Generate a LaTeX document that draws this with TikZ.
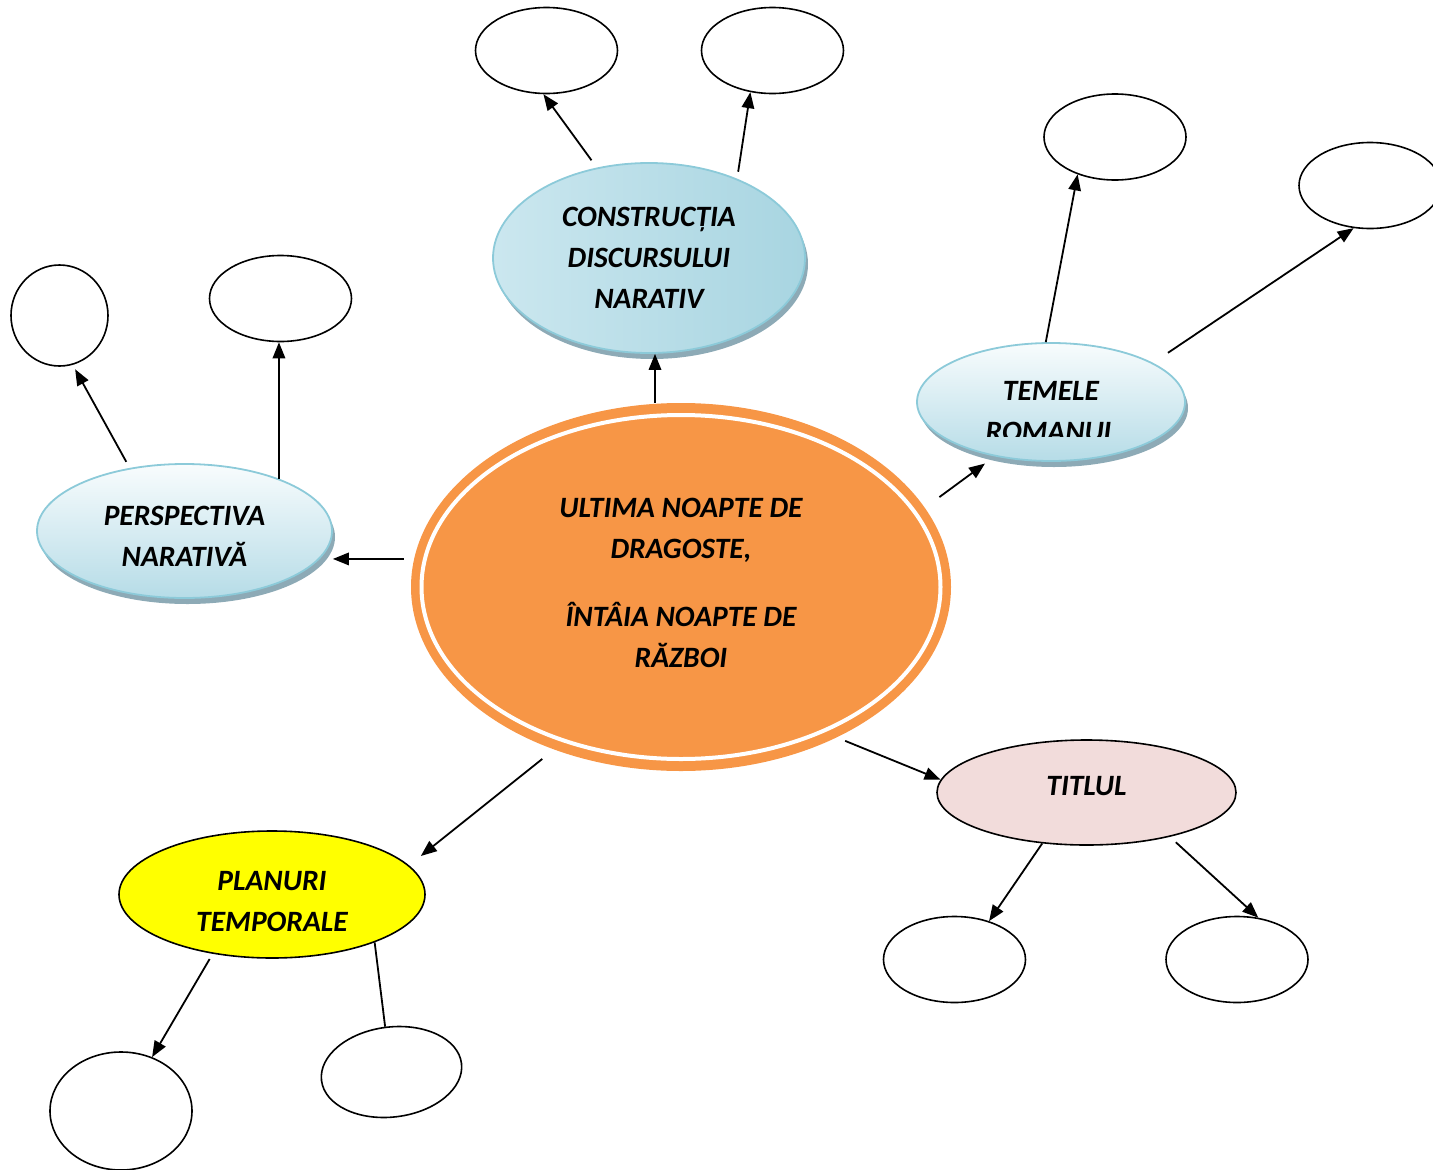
\documentclass[tikz,border=0pt]{standalone}
\usepackage{fontspec}
\setmainfont{Carlito}
\usetikzlibrary{arrows.meta,shapes.geometric,shadows}
\definecolor{ink}{HTML}{000000}
\definecolor{core}{HTML}{F79646}
\definecolor{sky}{HTML}{8CCAD9}
\definecolor{skytop}{HTML}{F8FCFD}
\definecolor{skybot}{HTML}{B6DCE7}
\definecolor{skyleft}{HTML}{CBE7EF}
\definecolor{skymid}{HTML}{DDEFF4}
\definecolor{skyright}{HTML}{A8D5E1}
\definecolor{skyshade}{HTML}{8DAAB6}
\definecolor{rose}{HTML}{F2DCDB}
\definecolor{lemon}{HTML}{FFFF00}

\begin{document}
\begin{tikzpicture}[
  x=1pt, y=-1pt,
  >={Triangle[length=16pt, width=12.5pt]},
  lbl/.style={font=\bfseries\itshape\fontsize{29.5}{41}\selectfont, align=center, text=ink},
  oval/.style={ellipse, inner sep=0pt, lbl},
  bubble/.style={oval, draw=sky, line width=1.8pt, top color=skytop, bottom color=skybot,
    drop shadow={shadow xshift=3pt, shadow yshift=-6pt, fill=skyshade, opacity=1}},
  blank/.style={oval, draw=ink, line width=1.6pt, fill=white, minimum width=142pt, minimum height=86pt},
  topic/.style={oval, draw=ink, line width=1.6pt},
  link/.style={->, line width=1.8pt, draw=ink},
]
\useasboundingbox (0,0) rectangle (1433,1170);

% central ellipse with its white inner ring
\node[oval, fill=core, minimum width=540pt, minimum height=368pt] (night) at (681,587) {};
\draw[white, line width=4pt] (night.center) ellipse [x radius=259.5, y radius=172];
\node[lbl] (nightText) at ([yshift=4pt]night.center)
  {ULTIMA NOAPTE DE\\DRAGOSTE,\\[27pt]ÎNTÂIA NOAPTE DE\\RĂZBOI};

% the five topics
\node[bubble, left color=skyleft, middle color=skymid, right color=skyright,
  minimum width=312pt, minimum height=190pt] (discourse) at (649,258)
  {CONSTRUCȚIA\\DISCURSULUI\\NARATIV};
\node[bubble, minimum width=268pt, minimum height=118pt] (themes) at (1051,402) {};
\node[lbl, anchor=base] (themesA) at (1051,400) {TEMELE};
\begin{scope}
\clip (917,343) rectangle (1185,436);
\node[lbl, anchor=base] (themesB) at (1051,441) {ROMANUL};
\end{scope}
\node[bubble, minimum width=295pt, minimum height=134pt] (perspective) at (184.5,531) {};
\node[lbl] (perspectiveText) at ([yshift=-5pt]perspective.center) {PERSPECTIVA\\NARATIVĂ};
\node[topic, fill=rose, minimum width=299pt, minimum height=105pt] (title) at (1086.5,792.5) {};
\node[lbl] (titleText) at ([yshift=6pt]title.center) {TITLUL};
\node[topic, fill=lemon, minimum width=306pt, minimum height=127pt] (planes) at (272,894.5) {};
\node[lbl] (planesText) at ([yshift=-7pt]planes.center) {PLANURI\\TEMPORALE};

% empty answer ellipses
\foreach \n/\x/\y in {discA/546.5/50.5, discB/772.5/50.5, themeA/1115/137, themeB/1370/185.5,
  perspB/280.5/298.5, titleA/954.5/959.5, titleB/1237/959.5}
  \node[blank] (\n) at (\x,\y) {};
\node[blank, minimum width=97pt, minimum height=101pt] (perspA) at (59.5,315.5) {};
\node[blank, minimum height=118pt] (planeA) at (121,1111) {};
\node[blank, minimum width=141pt, minimum height=90pt, rotate=7] (planeB) at (391.5,1072) {};

% centre to topics
\draw[link] ([xshift=-26pt]night.north) -- ([xshift=6pt]discourse.south);
\draw[link, shorten <=18pt, shorten >=12pt] (night.18.1) -- (themes.-136.2);
\draw[link, shorten <=10pt] (night.174.4) -- (night.174.4 -| perspective.east);
\draw[link, shorten <=9pt] (night.-44.3) -- (title.175);
\draw[link, shorten <=15pt, shorten >=15pt] (night.-128.6) -- (planes.12.5);

% topics to answers
\draw[link, shorten <=9pt] (discourse.120.8) -- (discA.-94.7);
\draw[link, shorten <=7pt] (discourse.42.8) -- (discB.-118.1);
\draw[link] (themes.95.7) -- (themeA.-135.7);
\draw[link, shorten <=18pt] (themes.21) -- (themeB.-111);
\draw[link, shorten <=7pt, shorten >=5pt] (perspective.131.6) -- (perspA.-75.3);
\draw[link] (perspective.29.4) -- (perspective.29.4 |- perspB.south);
\draw[link] (title.-131.4) -- (titleA.48.2);
\draw[link, shorten <=8pt] (title.-28.3) -- (titleB.63.2);
\draw[link, shorten <=6pt] (planes.-135.7) -- (planeA.60.8);
\draw[line width=1.8pt, draw=ink] (planes.-25.6) -- (planeB.91);
\end{tikzpicture}
\end{document}
